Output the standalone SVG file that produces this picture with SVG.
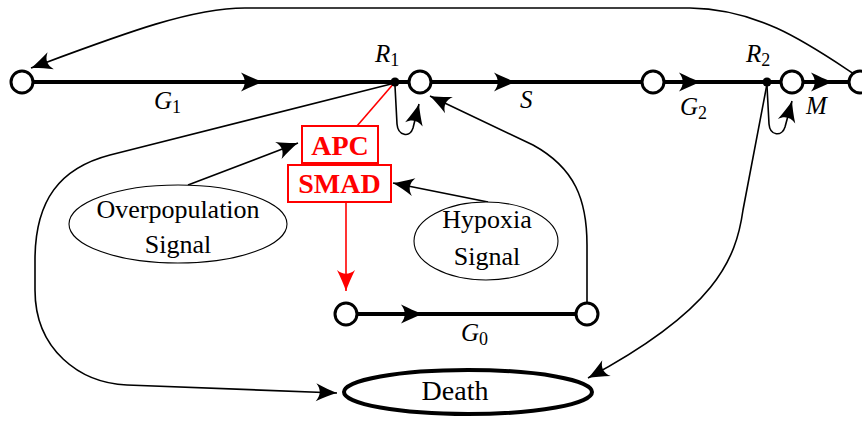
<svg xmlns="http://www.w3.org/2000/svg" width="862" height="423" viewBox="0 0 862 423">
<style>
.thick{fill:none;stroke:#000;stroke-width:4;marker-mid:url(#b)}
.thin{fill:none;stroke:#000;stroke-width:1.6;marker-end:url(#a)}
.st{fill:#fff;stroke:#000;stroke-width:3}
.dot{fill:#000}
.ell{fill:#fff;stroke:#000;stroke-width:1.1}
.txt{font-family:"Liberation Serif",serif;font-size:26px;fill:#000;text-anchor:middle}
.m{font-family:"Liberation Serif",serif;font-style:italic;font-size:25px;fill:#000}
.sub{font-family:"Liberation Serif",serif;font-style:normal;font-size:18px}
.red{font-family:"Liberation Serif",serif;font-weight:bold;font-size:28px;fill:#f00;text-anchor:middle}
.box{fill:#fff;stroke:#f00;stroke-width:2}
</style>
<defs>
<marker id="a" markerUnits="userSpaceOnUse" viewBox="-24 -11 26 22" markerWidth="26" markerHeight="22" refX="0" refY="0" orient="auto" overflow="visible">
<path d="M0,0 C-6,-2 -14,-5.5 -21,-9 C-16,-3 -16,3 -21,9 C-14,5.5 -6,2 0,0 Z" fill="#000"/>
</marker>
<marker id="b" markerUnits="userSpaceOnUse" viewBox="-24 -11 26 22" markerWidth="26" markerHeight="22" refX="0" refY="0" orient="auto" overflow="visible">
<path d="M1,0 C-6,-2.5 -14,-6 -21,-9.5 C-16,-3 -16,3 -21,9.5 C-14,6 -6,2.5 1,0 Z" fill="#000"/>
</marker>
<marker id="r" markerUnits="userSpaceOnUse" viewBox="-24 -11 26 22" markerWidth="26" markerHeight="22" refX="0" refY="0" orient="auto" overflow="visible">
<path d="M0,0 C-6,-2 -14,-5.5 -21,-9 C-16,-3 -16,3 -21,9 C-14,5.5 -6,2 0,0 Z" fill="#f00"/>
</marker>
</defs>
<g id="connectors">
<path class="thick" d="M33,82 L262,82 L409,82"/>
<path class="thick" d="M431,82 L515,82 L642,82"/>
<path class="thick" d="M664,82 L700,82 L781,82"/>
<path class="thick" d="M803,82 L832,82 L849,82"/>
<path class="thick" d="M357,314 L422,314 L576,314"/>
<path class="thin" d="M854,74 C810,45 760,9 690,8 L245,8 C190,8 120,35 31,68"/>
<path class="thin" d="M395,86 L397,124 C398,136 410,138 413,128 L419,104"/>
<path class="thin" d="M767,86 L769,124 C770,136 782,137 785,127 L792,101"/>
<path class="thin" d="M587,303 L587,245 C587,200 575,168 533,145 L430,96"/>
<path class="thin" d="M395,83 L110,155 C60,168 35,200 35,260 L35,290 C35,350 80,383 127,385 L337,393"/>
<path class="thin" d="M767,84 L743,210 C736,260 715,310 588,378"/>
<path class="thin" d="M188,185 L298,143"/>
<path class="thin" d="M488,202 L393,183"/>
<path d="M395,82 L357,126" fill="none" stroke="#f00" stroke-width="1.6"/>
<path d="M346,202 L346,291" fill="none" stroke="#f00" stroke-width="1.6" marker-end="url(#r)"/>
</g>
<g id="n_g1start"><circle class="st" cx="22" cy="82" r="11"/></g>
<g id="n_R1"><circle class="dot" cx="395" cy="82" r="4.5"/><text class="m" x="375" y="62">R<tspan class="sub" dy="4">1</tspan></text></g>
<g id="n_Sstart"><circle class="st" cx="420" cy="82" r="11"/></g>
<g id="n_G2start"><circle class="st" cx="653" cy="82" r="11"/></g>
<g id="n_R2"><circle class="dot" cx="767" cy="82" r="4.5"/><text class="m" x="746" y="62">R<tspan class="sub" dy="4">2</tspan></text></g>
<g id="n_Mstart"><circle class="st" cx="792" cy="82" r="11"/></g>
<g id="n_Mend"><circle class="st" cx="860" cy="82" r="11"/></g>
<g id="n_G0start"><circle class="st" cx="346" cy="314" r="11"/></g>
<g id="n_G0end"><circle class="st" cx="587" cy="314" r="11"/></g>
<g id="labels">
<text class="m" x="154" y="109">G<tspan class="sub" dy="4">1</tspan></text>
<text class="m" x="520" y="108">S</text>
<text class="m" x="680" y="115">G<tspan class="sub" dy="4">2</tspan></text>
<text class="m" x="806" y="114">M</text>
<text class="m" x="461" y="341">G<tspan class="sub" dy="4">0</tspan></text>
</g>
<g id="n_APC"><rect class="box" x="302" y="126" width="76" height="37"/><text class="red" x="340" y="155">APC</text></g>
<g id="n_SMAD"><rect class="box" x="288" y="165" width="103" height="37"/><text class="red" x="339.5" y="193">SMAD</text></g>
<g id="n_over"><ellipse class="ell" cx="178" cy="224" rx="109" ry="39"/><text class="txt" x="178" y="218">Overpopulation</text><text class="txt" x="178" y="253">Signal</text></g>
<g id="n_hyp"><ellipse class="ell" cx="486" cy="241" rx="72" ry="39"/><text class="txt" x="487" y="228">Hypoxia</text><text class="txt" x="487" y="265">Signal</text></g>
<g id="n_death"><ellipse cx="468" cy="392" rx="124" ry="22" fill="#fff" stroke="#000" stroke-width="4"/><text class="txt" x="455" y="400" style="font-size:28px">Death</text></g>
</svg>
